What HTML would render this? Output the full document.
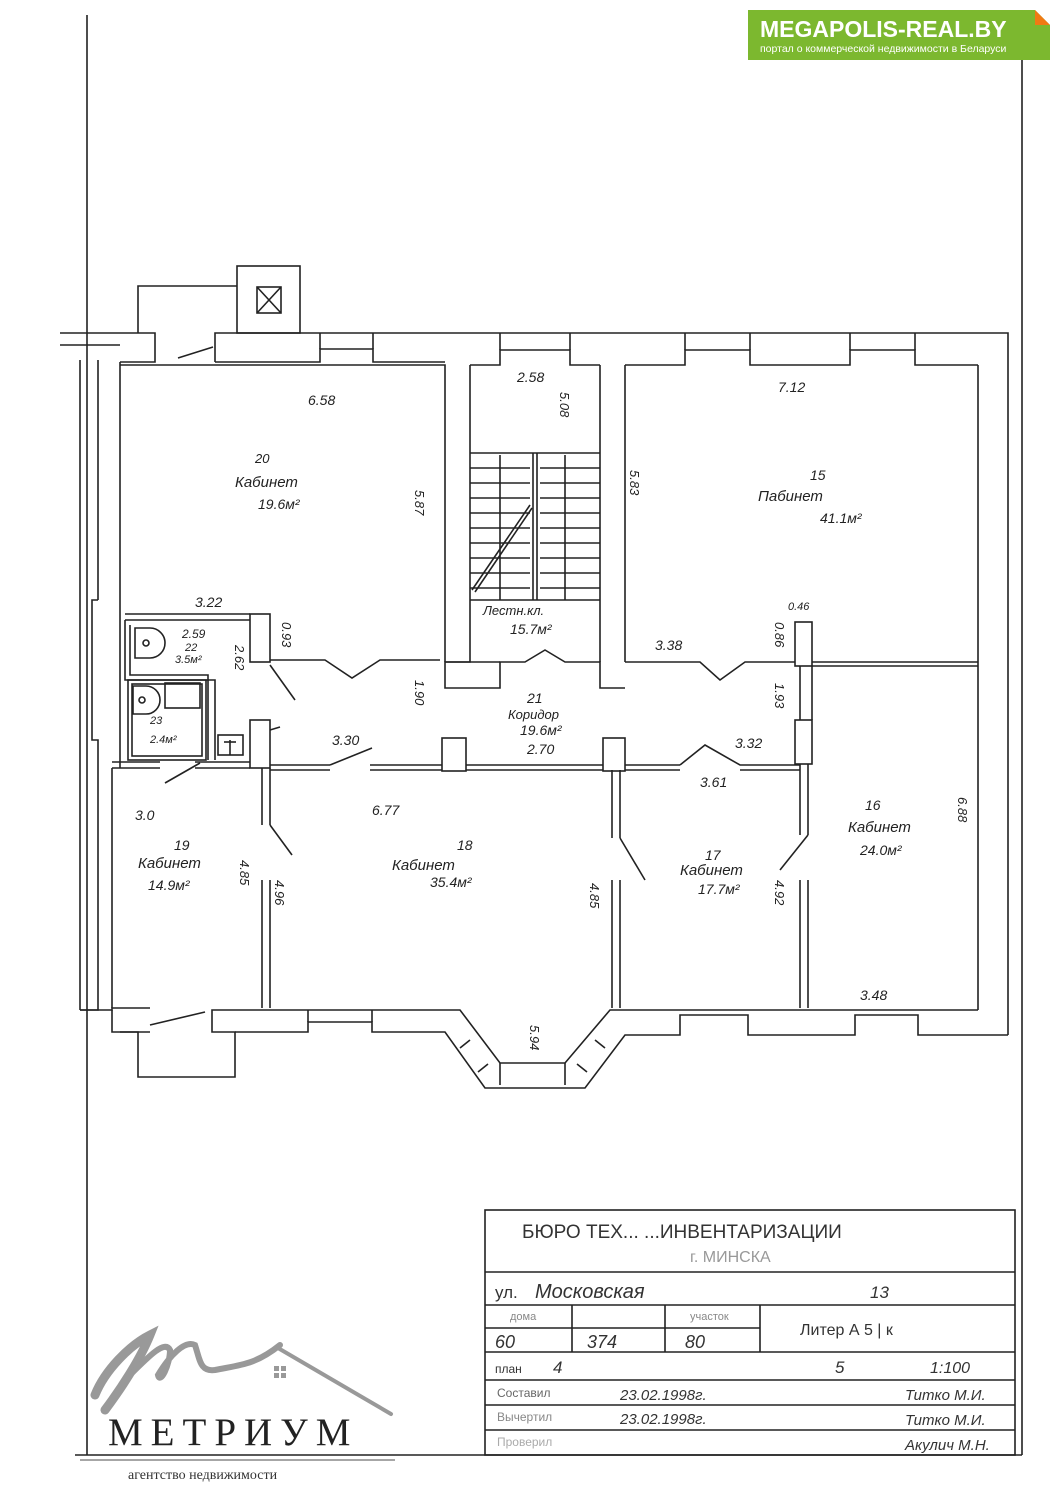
<!DOCTYPE html>
<html><head><meta charset="utf-8"><style>
body{margin:0;background:#fff;}
svg{display:block}
.h{font-family:"Liberation Sans","DejaVu Sans",sans-serif;font-style:italic;fill:#222;}
</style></head><body>
<svg width="1060" height="1500" viewBox="0 0 1060 1500" xmlns="http://www.w3.org/2000/svg">
<rect width="1060" height="1500" fill="#fff"/>
<g stroke="#222" stroke-width="1.6" fill="none">
<line x1="87" y1="15" x2="87" y2="1455"/>
<line x1="1022" y1="55" x2="1022" y2="1455"/>
<line x1="75" y1="1455" x2="1022" y2="1455"/>
<rect x="237" y="266" width="63" height="67"/>
<rect x="257" y="287" width="24" height="26"/>
<line x1="257" y1="287" x2="281" y2="313"/><line x1="281" y1="287" x2="257" y2="313"/>
<polyline points="138,333 138,286 237,286"/>
<polyline points="60,333 155,333 155,362 120,362"/>
<polyline points="60,345 120,345"/>
<polyline points="215,362 215,333 1008,333 1008,1035"/>
<polyline points="215,362 320,362 320,349 373,349 373,362 445,362"/>
<polyline points="470,365 500,365 500,350 570,350 570,365 600,365"/>
<polyline points="625,365 685,365 685,350 750,350 750,365 850,365 850,350 915,350 915,365 978,365"/>
<line x1="320" y1="349" x2="320" y2="333"/><line x1="373" y1="349" x2="373" y2="333"/>
<line x1="500" y1="350" x2="500" y2="333"/><line x1="570" y1="350" x2="570" y2="333"/>
<line x1="685" y1="350" x2="685" y2="333"/><line x1="750" y1="350" x2="750" y2="333"/>
<line x1="850" y1="350" x2="850" y2="333"/><line x1="915" y1="350" x2="915" y2="333"/>
<line x1="178" y1="358" x2="213" y2="347"/>
<line x1="80" y1="360" x2="80" y2="1010"/>
<line x1="98" y1="360" x2="98" y2="600"/>
<polyline points="98,600 92,600 92,740 98,740 98,1010 80,1010"/>
<line x1="120" y1="362" x2="120" y2="768"/>
<line x1="112" y1="768" x2="112" y2="1008"/>
<polyline points="120,365 445,365 445,662"/>
<line x1="445" y1="662" x2="470" y2="662"/>
<polyline points="470,365 470,662 445,662 445,688 500,688 500,662 525,662 545,650 565,662 600,662 600,688 625,688"/>
<polyline points="470,662 500,662"/>
<line x1="600" y1="365" x2="600" y2="662"/>
<line x1="625" y1="365" x2="625" y2="662"/>
<line x1="470" y1="453" x2="600" y2="453"/>
<line x1="470" y1="468" x2="530" y2="468"/><line x1="540" y1="468" x2="600" y2="468"/>
<line x1="470" y1="483" x2="530" y2="483"/><line x1="540" y1="483" x2="600" y2="483"/>
<line x1="470" y1="498" x2="530" y2="498"/><line x1="540" y1="498" x2="600" y2="498"/>
<line x1="470" y1="513" x2="530" y2="513"/><line x1="540" y1="513" x2="600" y2="513"/>
<line x1="470" y1="528" x2="530" y2="528"/><line x1="540" y1="528" x2="600" y2="528"/>
<line x1="470" y1="543" x2="530" y2="543"/><line x1="540" y1="543" x2="600" y2="543"/>
<line x1="470" y1="558" x2="530" y2="558"/><line x1="540" y1="558" x2="600" y2="558"/>
<line x1="470" y1="573" x2="530" y2="573"/><line x1="540" y1="573" x2="600" y2="573"/>
<line x1="470" y1="588" x2="530" y2="588"/><line x1="540" y1="588" x2="600" y2="588"/>
<line x1="470" y1="600" x2="600" y2="600"/>
<line x1="533" y1="453" x2="533" y2="600"/><line x1="537" y1="453" x2="537" y2="600"/>
<line x1="472" y1="590" x2="530" y2="505"/><line x1="475" y1="592" x2="532" y2="508"/>
<line x1="500" y1="455" x2="500" y2="600"/><line x1="565" y1="455" x2="565" y2="600"/>
<polyline points="625,662 700,662 720,680 745,662 795,662"/>
<line x1="978" y1="365" x2="978" y2="1010"/>
<line x1="812" y1="662" x2="978" y2="662"/><line x1="812" y1="666" x2="978" y2="666"/>
<rect x="795" y="622" width="17" height="44"/>
<rect x="795" y="720" width="17" height="44"/>
<line x1="800" y1="666" x2="800" y2="720"/><line x1="812" y1="666" x2="812" y2="720"/>
<line x1="800" y1="764" x2="800" y2="835"/><line x1="808" y1="764" x2="808" y2="835"/>
<line x1="800" y1="880" x2="800" y2="1008"/><line x1="808" y1="880" x2="808" y2="1008"/>
<line x1="808" y1="835" x2="780" y2="870"/>
<polyline points="270,660 325,660 352,678 380,660 440,660"/>
<rect x="250" y="614" width="20" height="48"/>
<line x1="270" y1="665" x2="295" y2="700"/>
<polyline points="125,614 250,614"/><polyline points="125,620 250,620"/>
<polyline points="125,620 125,680 215,680 215,760"/>
<polyline points="130,625 130,675 208,675 208,760"/>
<rect x="128" y="680" width="78" height="80"/>
<rect x="132" y="684" width="70" height="72"/>
<rect x="165" y="683" width="35" height="25"/>
<path d="M135 628 h15 a12 12 0 0 1 0 30 h-15z"/>
<circle cx="146" cy="643" r="3"/>
<path d="M133 686 h13 a12 12 0 0 1 0 28 h-13z"/>
<circle cx="142" cy="700" r="3"/>
<rect x="218" y="735" width="25" height="20"/>
<line x1="230" y1="740" x2="230" y2="755"/><line x1="224" y1="742" x2="236" y2="742"/>
<rect x="250" y="720" width="20" height="48"/>
<line x1="270" y1="730" x2="280" y2="727"/>
<polyline points="112,768 160,768"/><polyline points="112,762 160,762"/>
<line x1="195" y1="768" x2="250" y2="768"/><line x1="195" y1="762" x2="250" y2="762"/>
<line x1="270" y1="765" x2="330" y2="765"/><line x1="270" y1="770" x2="330" y2="770"/>
<line x1="330" y1="765" x2="372" y2="748"/>
<line x1="370" y1="765" x2="442" y2="765"/><line x1="370" y1="770" x2="442" y2="770"/>
<rect x="442" y="738" width="24" height="33"/>
<line x1="466" y1="765" x2="603" y2="765"/><line x1="466" y1="770" x2="603" y2="770"/>
<rect x="603" y="738" width="22" height="33"/>
<line x1="625" y1="765" x2="680" y2="765"/><line x1="625" y1="770" x2="680" y2="770"/>
<polyline points="680,765 705,745 740,765 800,765"/><line x1="740" y1="770" x2="800" y2="770"/>
<line x1="165" y1="783" x2="200" y2="763"/>
<line x1="262" y1="768" x2="262" y2="825"/><line x1="270" y1="768" x2="270" y2="825"/>
<line x1="270" y1="825" x2="292" y2="855"/>
<line x1="262" y1="880" x2="262" y2="1008"/><line x1="270" y1="880" x2="270" y2="1008"/>
<line x1="612" y1="770" x2="612" y2="838"/><line x1="620" y1="770" x2="620" y2="838"/>
<line x1="620" y1="838" x2="645" y2="880"/>
<line x1="612" y1="880" x2="612" y2="1008"/><line x1="620" y1="880" x2="620" y2="1008"/>
<polyline points="80,1010 112,1010 112,1008 150,1008"/>
<line x1="150" y1="1025" x2="205" y2="1012"/>
<polyline points="120,1032 138,1032 138,1077 235,1077 235,1032 212,1032 212,1010 460,1010 500,1063 565,1063 610,1010 978,1010"/>
<polyline points="112,1010 112,1032 150,1032"/>
<polyline points="235,1032 308,1032 308,1022 372,1022 372,1032 445,1032 485,1088 585,1088 625,1035 680,1035 680,1015 748,1015 748,1035 855,1035 855,1015 918,1015 918,1035 1008,1035"/>
<line x1="308" y1="1010" x2="308" y2="1022"/><line x1="372" y1="1010" x2="372" y2="1022"/>
<line x1="500" y1="1063" x2="500" y2="1085"/><line x1="565" y1="1063" x2="565" y2="1085"/>
<line x1="470" y1="1040" x2="460" y2="1048"/><line x1="488" y1="1064" x2="478" y2="1072"/>
<line x1="595" y1="1040" x2="605" y2="1048"/><line x1="577" y1="1064" x2="587" y2="1072"/>
<rect x="485" y="1210" width="530" height="245"/>
<line x1="485" y1="1272" x2="1015" y2="1272"/>
<line x1="485" y1="1305" x2="1015" y2="1305"/>
<line x1="485" y1="1352" x2="1015" y2="1352"/>
<line x1="485" y1="1380" x2="1015" y2="1380"/>
<line x1="485" y1="1405" x2="1015" y2="1405"/>
<line x1="485" y1="1430" x2="1015" y2="1430"/>
<line x1="572" y1="1305" x2="572" y2="1352"/><line x1="665" y1="1305" x2="665" y2="1352"/><line x1="760" y1="1305" x2="760" y2="1352"/>
<line x1="485" y1="1328" x2="760" y2="1328"/>
</g>
<g class="h" font-size="14">
<text x="308" y="405">6.58</text>
<text x="255" y="463" font-size="13">20</text>
<text x="235" y="487" font-size="15">Кабинет</text>
<text x="258" y="509">19.6м²</text>
<text x="195" y="607">3.22</text>
<text x="182" y="638" font-size="12">2.59</text>
<text x="185" y="651" font-size="11">22</text>
<text x="175" y="663" font-size="11">3.5м²</text>
<text x="150" y="724" font-size="11">23</text>
<text x="150" y="743" font-size="11">2.4м²</text>
<text x="517" y="382">2.58</text>
<text x="778" y="392">7.12</text>
<text x="810" y="480">15</text>
<text x="758" y="501" font-size="15">Пабинет</text>
<text x="820" y="523">41.1м²</text>
<text x="483" y="615" font-size="13">Лестн.кл.</text>
<text x="510" y="634">15.7м²</text>
<text x="788" y="610" font-size="11">0.46</text>
<text x="655" y="650">3.38</text>
<text x="527" y="703">21</text>
<text x="508" y="719" font-size="13">Коридор</text>
<text x="520" y="735">19.6м²</text>
<text x="527" y="754">2.70</text>
<text x="332" y="745">3.30</text>
<text x="735" y="748">3.32</text>
<text x="700" y="787">3.61</text>
<text x="372" y="815">6.77</text>
<text x="135" y="820">3.0</text>
<text x="457" y="850">18</text>
<text x="392" y="870" font-size="15">Кабинет</text>
<text x="430" y="887">35.4м²</text>
<text x="174" y="850">19</text>
<text x="138" y="868" font-size="15">Кабинет</text>
<text x="148" y="890">14.9м²</text>
<text x="705" y="860">17</text>
<text x="680" y="875" font-size="15">Кабинет</text>
<text x="698" y="894">17.7м²</text>
<text x="865" y="810">16</text>
<text x="848" y="832" font-size="15">Кабинет</text>
<text x="860" y="855">24.0м²</text>
<text x="860" y="1000">3.48</text>
</g>
<g class="h" font-size="13">
<text transform="translate(415,490) rotate(90)">5.87</text>
<text transform="translate(560,392) rotate(90)">5.08</text>
<text transform="translate(630,470) rotate(90)">5.83</text>
<text transform="translate(282,622) rotate(90)">0.93</text>
<text transform="translate(235,645) rotate(90)">2.62</text>
<text transform="translate(415,680) rotate(90)">1.90</text>
<text transform="translate(775,622) rotate(90)">0.86</text>
<text transform="translate(775,683) rotate(90)">1.93</text>
<text transform="translate(958,797) rotate(90)">6.88</text>
<text transform="translate(240,860) rotate(90)">4.85</text>
<text transform="translate(275,880) rotate(90)">4.96</text>
<text transform="translate(590,883) rotate(90)">4.85</text>
<text transform="translate(775,880) rotate(90)">4.92</text>
<text transform="translate(530,1025) rotate(90)">5.94</text>
</g>
<g font-family="Liberation Sans, sans-serif" fill="#333">
<text x="522" y="1238" font-size="19">БЮРО ТЕХ...                  ...ИНВЕНТАРИЗАЦИИ</text>
<text x="690" y="1262" font-size="16" fill="#999">г. МИНСКА</text>
<text x="495" y="1298" font-size="17">ул.</text>
<text x="535" y="1298" font-size="20" font-style="italic">Московская</text>
<text x="870" y="1298" font-size="17" font-style="italic">13</text>
<text x="510" y="1320" font-size="11" fill="#888">дома</text>
<text x="690" y="1320" font-size="11" fill="#888">участок</text>
<text x="495" y="1348" font-size="18" font-style="italic">60</text>
<text x="587" y="1348" font-size="18" font-style="italic">374</text>
<text x="685" y="1348" font-size="18" font-style="italic">80</text>
<text x="800" y="1335" font-size="16">Литер А 5 | к</text>
<text x="495" y="1373" font-size="12">план</text>
<text x="553" y="1373" font-size="17" font-style="italic">4</text>
<text x="835" y="1373" font-size="17" font-style="italic">5</text>
<text x="930" y="1373" font-size="16" font-style="italic">1:100</text>
<text x="497" y="1397" font-size="12" fill="#666">Составил</text>
<text x="497" y="1421" font-size="12" fill="#888">Вычертил</text>
<text x="497" y="1446" font-size="12" fill="#aaa">Проверил</text>
<text x="620" y="1400" font-size="15" font-style="italic">23.02.1998г.</text>
<text x="620" y="1424" font-size="15" font-style="italic">23.02.1998г.</text>
<text x="905" y="1400" font-size="15" font-style="italic">Титко М.И.</text>
<text x="905" y="1425" font-size="15" font-style="italic">Титко М.И.</text>
<text x="905" y="1450" font-size="15" font-style="italic">Акулич М.Н.</text>
</g>
<rect x="748" y="10" width="302" height="50" fill="#7cb82f"/>
<polygon points="1035,10 1050,25 1050,10" fill="#fff"/>
<polygon points="1035,10 1050,25 1035,25" fill="#f07a14"/>
<text x="760" y="37" font-family="Liberation Sans, sans-serif" font-weight="bold" font-size="23" fill="#fff">MEGAPOLIS-REAL.BY</text>
<text x="760" y="52" font-family="Liberation Sans, sans-serif" font-size="10.5" fill="#fff">портал о коммерческой недвижимости в Беларуси</text>
<g fill="none" stroke="#999" stroke-linecap="round">
<path d="M95 1395 C105 1370 130 1345 150 1335 C140 1360 120 1390 105 1410" stroke-width="9"/>
<path d="M130 1375 C150 1355 165 1340 170 1350 C170 1365 160 1385 158 1375 C170 1355 185 1340 195 1345 C200 1360 200 1372 215 1370 C240 1365 255 1365 280 1345" stroke-width="6"/>
<path d="M278 1348 L391 1414" stroke-width="4"/>
</g>
<g fill="#999"><rect x="274" y="1366" width="5" height="5"/><rect x="281" y="1366" width="5" height="5"/><rect x="274" y="1373" width="5" height="5"/><rect x="281" y="1373" width="5" height="5"/></g>
<text x="108" y="1445" font-family="Liberation Serif, serif" font-size="39" fill="#222" letter-spacing="8">МЕТРИУМ</text>
<line x1="80" y1="1460" x2="395" y2="1460" stroke="#888" stroke-width="1.5"/>
<text x="128" y="1479" font-family="Liberation Serif, serif" font-size="14" fill="#333">агентство недвижимости</text>
</svg>
</body></html>
